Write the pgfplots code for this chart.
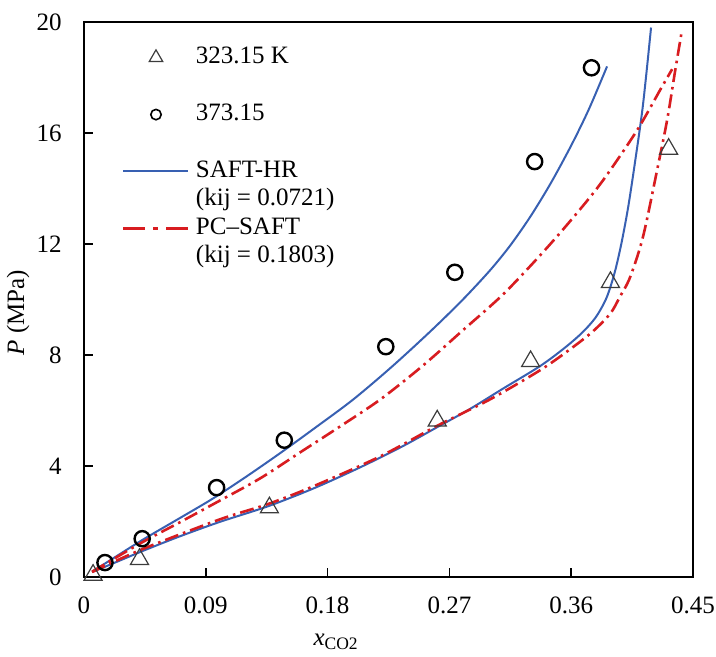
\documentclass[border=0pt]{standalone}
\usepackage{fontspec}
\setmainfont{Liberation Serif}
\usepackage{pgfplots}
\pgfplotsset{compat=1.18}
\definecolor{saftblue}{RGB}{56,96,178}
\definecolor{pcred}{RGB}{216,28,32}
\definecolor{markgray}{RGB}{60,60,60}
\begin{document}
\fontsize{12.5}{15}\selectfont
\begin{tikzpicture}
\path[use as bounding box] (-42pt,-40pt) rectangle (316pt,288.5pt);
\begin{axis}[
 at={(0,0)}, anchor=south west, scale only axis,
 width=304.5pt, height=277.5pt,
 xmin=0, xmax=0.45, ymin=0, ymax=20,
 xtick={0,0.09,0.18,0.27,0.36,0.45},
 xticklabels={0,0.09,0.18,0.27,0.36,0.45},
 ytick={0,4,8,12,16,20}, yticklabels={0,4,8,12,16,20},
 xtick pos=bottom, ytick pos=left, tick align=inside,
 major tick length=4.5pt,
 every tick/.style={black, line width=0.8pt},
 axis line style={line width=0.9pt},
 xticklabel style={yshift=-5.8pt},
 yticklabel style={xshift=-6.8pt},
 xlabel={\textit{x}\textsubscript{CO2}},
 ylabel={\textit{P} (MPa)},
 every axis x label/.style={at={(axis description cs:0.414,-0.117)},anchor=center},
 every axis y label/.style={at={(axis description cs:-0.108,0.476)},anchor=center,rotate=90},
 legend style={at={(axis description cs:0.0624,0.9614)}, anchor=north west,
   draw=none, fill=none, inner sep=0pt, outer sep=0pt, row sep=0pt, column sep=3pt,
   nodes={inner sep=0pt, text height=10pt, text depth=4.23pt}},
 legend cell align=left,
]
% SAFT-HR 373.15
\addplot[forget plot, saftblue, line width=1pt, smooth, tension=0.5] coordinates {
(0.006,0.19)(0.016,0.50)(0.043,1.33)(0.07,2.10)(0.095,2.82)(0.12,3.62)(0.146,4.50)
(0.172,5.42)(0.199,6.40)(0.228,7.60)(0.257,8.90)(0.28,10.00)(0.30,11.05)(0.315,11.95)
(0.33,13.0)(0.345,14.2)(0.36,15.55)(0.373,16.85)(0.3865,18.4)};
% SAFT-HR 323.15
\addplot[forget plot, saftblue, line width=1pt, smooth, tension=0.5] coordinates {
(0.006,0.18)(0.02,0.46)(0.043,0.93)(0.07,1.45)(0.1,1.98)(0.136,2.55)(0.17,3.2)
(0.204,3.95)(0.235,4.7)(0.261,5.4)(0.285,6.05)(0.31,6.8)(0.337,7.6)(0.355,8.25)
(0.368,8.8)(0.378,9.35)(0.386,10.05)(0.392,10.95)(0.397,12.0)(0.402,13.3)(0.407,14.9)
(0.413,17.0)(0.419,19.8)};
% PC-SAFT 373.15
\addplot[forget plot, pcred, line width=1.3pt, dash pattern=on 7pt off 2.5pt on 1.3pt off 2.5pt, smooth, tension=0.5] coordinates {
(0.006,0.19)(0.016,0.48)(0.043,1.25)(0.07,1.95)(0.0946,2.6)(0.13,3.55)(0.16,4.5)
(0.19,5.45)(0.219,6.4)(0.25,7.6)(0.279,8.85)(0.31,10.2)(0.34,11.75)(0.364,13.1)
(0.3836,14.3)(0.4087,16.1)(0.4257,17.55)(0.4346,18.3)};
% PC-SAFT 323.15
\addplot[forget plot, pcred, line width=1.3pt, dash pattern=on 7pt off 2.5pt on 1.3pt off 2.5pt, smooth, tension=0.5] coordinates {
(0.006,0.18)(0.043,1.0)(0.1,2.07)(0.136,2.63)(0.17,3.28)(0.219,4.35)(0.261,5.45)
(0.30,6.4)(0.337,7.45)(0.359,8.2)(0.376,8.85)(0.389,9.5)(0.396,10.1)(0.4035,10.8)
(0.413,12.25)(0.4235,14.67)(0.431,16.5)(0.437,18.3)(0.4415,19.6)};
% data 323.15 K
\addplot[forget plot, only marks, mark=triangle, mark size=5.2pt, mark options={draw=markgray, line width=0.6pt, fill=none}] coordinates {
(0.0067,0.07)(0.041,0.64)(0.137,2.5)(0.261,5.63)(0.330,7.77)(0.389,10.62)(0.432,15.42)};
% data 373.15
\addplot[forget plot, only marks, mark=o, mark size=3.8pt, mark options={draw=black, line width=1.2pt}] coordinates {
(0.0155,0.52)(0.043,1.38)(0.098,3.22)(0.148,4.93)(0.223,8.3)(0.274,10.98)(0.333,14.97)(0.375,18.35)};
% legend
\addlegendimage{legend image code/.code={\path (0pt,0pt) (32.5pt,0pt); \draw[draw=markgray, line width=0.6pt] plot[mark=triangle, mark size=3.9pt] coordinates {(16.25pt,0pt)};}}
\addlegendentry{323.15 K}
\addlegendimage{empty legend}
\addlegendentry{}
\addlegendimage{legend image code/.code={\path (0pt,0pt) (32.5pt,0pt); \draw[draw=black, line width=0.8pt] plot[mark=o, mark size=2.6pt] coordinates {(16.25pt,0pt)};}}
\addlegendentry{373.15}
\addlegendimage{empty legend}
\addlegendentry{}
\addlegendimage{legend image code/.code={\draw[saftblue, line width=1pt] (0pt,0pt) -- (32.5pt,0pt);}}
\addlegendentry{SAFT-HR}
\addlegendimage{empty legend}
\addlegendentry{(kij = 0.0721)}
\addlegendimage{legend image code/.code={\draw[pcred, line width=1.5pt] (0pt,0pt) -- (11pt,0pt); \draw[pcred, line width=1.5pt] (15pt,0pt) -- (17.5pt,0pt); \draw[pcred, line width=1.5pt] (21.5pt,0pt) -- (32.5pt,0pt);}}
\addlegendentry{PC--SAFT}
\addlegendimage{empty legend}
\addlegendentry{(kij = 0.1803)}
\end{axis}
\end{tikzpicture}
\end{document}
